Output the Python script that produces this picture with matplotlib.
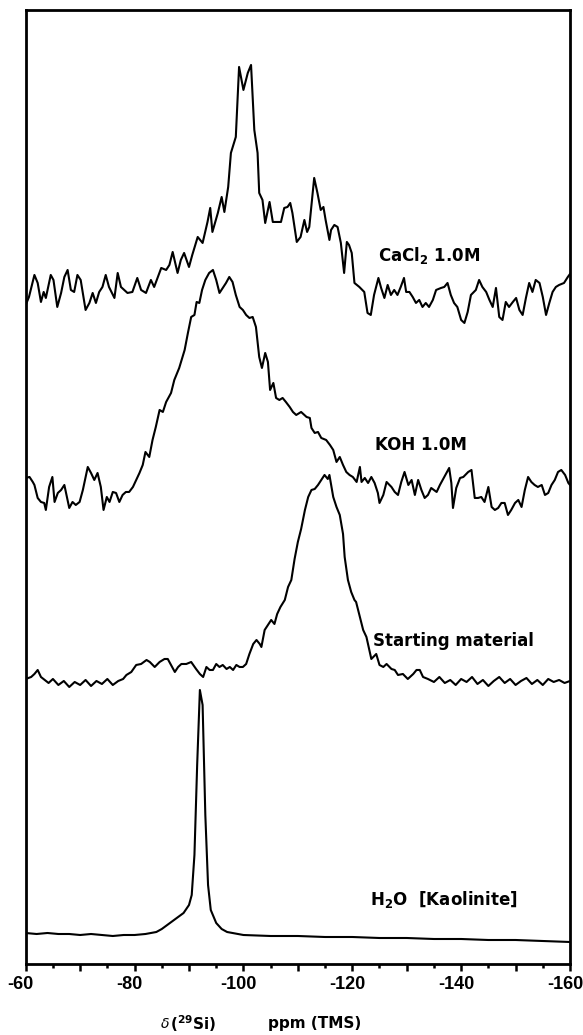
import numpy as np
import matplotlib.pyplot as plt
import matplotlib.transforms as mtransforms
from matplotlib.ticker import MultipleLocator, FuncFormatter

plt.rcParams['font.family'] = ['DejaVu Sans']
plt.rcParams['axes.unicode_minus'] = False
plt.rcParams['mathtext.fontset'] = 'custom'
plt.rcParams['mathtext.rm'] = 'DejaVu Sans:bold'

# 29Si MAS NMR spectra, chemical shift (ppm) and intensity (arbitrary units)
cacl2_ppm = [-60.0, -60.6, -61.6, -62.2, -62.8, -63.3, -63.7, -64.6, -65.1, -65.8,
             -66.5, -67.1, -67.7, -68.3, -68.9, -69.5, -70.1, -71.0, -71.7, -72.3,
             -72.9, -73.5, -74.1, -74.7, -75.3, -76.3, -76.9, -77.5, -78.1, -78.7,
             -79.6, -80.5, -81.2, -82.1, -83.0, -83.6, -84.9, -85.8, -86.4, -87.0,
             -87.9, -88.5, -89.1, -90.0, -90.6, -91.6, -92.5, -93.4, -93.9, -94.3,
             -95.3, -96.0, -96.5, -97.2, -97.7, -98.6, -99.2, -100.0, -100.8, -101.4,
             -102.0, -102.6, -102.9, -103.5, -104.0, -104.8, -105.4, -106.9, -107.5,
             -108.1, -108.6, -109.0, -109.8, -110.5, -111.2, -111.7, -112.1, -113.0, -113.6,
             -114.2, -114.7, -115.1, -115.8, -116.1, -116.7, -117.3, -117.9, -118.5, -119.0,
             -119.4, -119.9, -120.4, -121.3, -122.2, -122.8, -123.4, -124.0, -124.8, -125.3,
             -125.9, -126.5, -127.1, -127.7, -128.3, -128.9, -129.5, -129.9, -130.5, -131.1,
             -131.7, -132.3, -132.9, -133.5, -134.1, -134.8, -135.4, -136.3, -136.9, -137.5,
             -138.1, -138.7, -139.3, -140.0, -140.6, -141.2, -141.8, -142.7, -143.3, -143.9,
             -144.6, -145.2, -145.8, -146.4, -147.0, -147.6, -148.2, -148.8, -149.5, -150.1,
             -150.7, -151.3, -151.9, -152.5, -153.1, -153.7, -154.4, -155.0, -155.6, -156.2,
             -156.8, -157.4, -158.0, -158.9, -159.6, -160.0]
cacl2_int = [-15, -7, 15, 7, -12, -2, -8, 15, 10, -17,
             -3, 13, 20, 0, -2, 15, 10, -20, -13, -3,
             -13, -2, 3, 15, 3, -8, 17, 3, 0, -3,
             -2, 12, 0, -3, 10, 3, 22, 20, 25, 38,
             17, 30, 37, 23, 35, 53, 47, 68, 82, 58,
             77, 93, 78, 103, 137, 153, 223, 200, 217, 225,
             160, 137, 97, 90, 67, 88, 68, 68, 82,
             83, 87, 77, 48, 53, 70, 58, 63, 112, 97,
             80, 83, 70, 50, 60, 65, 63, 47, 17, 48,
             45, 37, 7, 3, -2, -23, -25, -5, 12, 2,
             -8, 5, -5, 0, -5, 3, 12, -2, -2, -7,
             -13, -10, -17, -13, -17, -10, 0, 2, 3, 7,
             -5, -13, -17, -30, -33, -22, -5, 0, 10, 3,
             -2, -10, -17, 2, -27, -30, -12, -17, -12, -8,
             -20, -25, -8, 7, -2, 10, 7, -7, -25, -13,
             -2, 3, 5, 7, 13, 16]

koh_ppm = [-60.0, -60.7, -61.3, -61.6, -62.2, -62.8, -63.4, -63.7, -64.3, -64.9,
           -65.3, -65.9, -66.5, -67.1, -68.0, -68.6, -69.2, -69.9, -70.5, -71.4,
           -72.0, -72.6, -73.2, -73.8, -74.3, -74.9, -75.4, -76.0, -76.6, -77.2,
           -77.8, -78.4, -79.0, -79.7, -80.3, -80.9, -81.5, -82.0, -82.7, -83.3,
           -83.9, -84.6, -85.2, -85.8, -86.7, -87.3, -88.2, -89.2, -89.8, -90.4,
           -91.0, -91.4, -91.9, -92.4, -93.0, -93.7, -94.4, -95.0, -95.6, -96.2,
           -96.8, -97.4, -98.0, -98.6, -99.3, -99.9, -100.5, -101.1, -101.7, -102.3,
           -102.9, -103.4, -104.0, -104.5, -104.9, -105.5, -106.0, -106.6, -107.2, -107.8,
           -108.5, -109.1, -109.7, -110.6, -111.6, -112.2, -112.5, -113.1, -113.7, -114.3,
           -115.2, -115.9, -116.5, -117.1, -117.7, -118.3, -118.9, -119.5, -120.1, -120.8,
           -121.4, -121.7, -122.3, -122.9, -123.5, -124.1, -124.7, -125.0, -125.7, -126.3,
           -127.2, -127.8, -128.4, -129.0, -129.6, -130.3, -130.9, -131.5, -132.1, -132.7,
           -133.3, -133.9, -134.5, -135.5, -136.1, -136.8, -137.8, -138.2, -138.5, -139.1,
           -139.8, -140.4, -141.3, -141.9, -142.5, -143.1, -143.7, -144.3, -145.0, -145.6,
           -146.2, -146.8, -147.4, -148.0, -148.6, -149.2, -149.9, -150.5, -151.1, -151.7,
           -152.3, -152.9, -153.5, -154.1, -154.8, -155.4, -156.0, -156.6, -157.2, -157.8,
           -158.4, -159.1, -159.7, -160.0]
koh_int = [22, 23, 18, 15, 2, -2, -3, -10, 13, 23,
           -2, 7, 10, 15, -8, -2, -5, -2, 10, 33,
           27, 20, 27, 13, -10, 3, -2, 8, 7, -2,
           5, 8, 8, 13, 20, 27, 35, 48, 43, 60,
           73, 90, 88, 98, 107, 120, 132, 150, 167, 183,
           185, 198, 197, 210, 220, 227, 230, 220, 207, 212,
           217, 223, 218, 205, 193, 190, 185, 182, 183, 173,
           143, 132, 147, 138, 110, 117, 102, 100, 102, 98,
           93, 88, 85, 88, 83, 82, 72, 67, 68, 62,
           60, 55, 50, 38, 43, 35, 28, 25, 23, 18,
           33, 18, 22, 17, 23, 17, 7, -3, 5, 18,
           13, 8, 5, 18, 28, 15, 20, 5, 20, 10,
           2, 5, 12, 8, 15, 22, 32, 17, -8, 12,
           22, 23, 28, 30, 2, 2, 3, -2, 13, -7,
           -10, -8, -3, -3, -15, -10, -3, 0, -7, 10,
           23, 18, 15, 13, 15, 5, 7, 15, 20, 28,
           30, 25, 17, 15]

start_ppm = [-60.0, -61.0, -61.6, -62.2, -62.8, -63.5, -64.2, -65.0, -66.0, -67.0,
             -68.0, -69.0, -70.0, -71.0, -72.0, -73.0, -74.0, -75.0, -76.0, -77.0,
             -77.9, -78.5, -79.4, -80.3, -81.2, -82.2, -82.8, -83.7, -84.6, -85.5,
             -86.1, -86.7, -87.4, -88.0, -88.6, -89.5, -90.4, -91.3, -92.0, -92.6,
             -93.2, -93.8, -94.4, -95.0, -95.6, -96.2, -96.9, -97.5, -98.1, -98.7,
             -99.3, -99.9, -100.5, -101.1, -101.8, -102.4, -103.0, -103.3, -103.9, -104.5,
             -105.1, -105.7, -106.2, -106.8, -107.6, -108.2, -108.8, -109.4, -110.0, -110.6,
             -111.3, -111.9, -112.5, -113.1, -113.7, -114.3, -114.9, -115.5, -115.8, -116.5,
             -117.1, -117.7, -118.3, -118.6, -119.2, -119.8, -120.4, -120.7, -121.4, -122.0,
             -122.6, -123.2, -123.5, -124.4, -125.0, -125.7, -126.3, -127.2, -127.8, -128.4,
             -129.3, -130.2, -131.2, -131.8, -132.4, -133.0, -133.9, -135.0, -136.0, -137.0,
             -138.0, -139.0, -140.0, -141.0, -142.0, -143.0, -144.0, -145.0, -146.0, -147.0,
             -148.0, -149.0, -150.0, -151.0, -152.0, -153.0, -154.0, -155.0, -156.0, -157.0,
             -158.0, -159.0, -160.0]
start_int = [-2, 0, 3, 7, 0, -3, -6, -2, -8, -4,
             -10, -5, -8, -3, -9, -4, -7, -2, -8, -4,
             -2, 2, 5, 12, 13, 17, 15, 10, 15, 18,
             18, 12, 5, 10, 13, 13, 15, 8, 3, 0,
             10, 7, 7, 13, 10, 12, 8, 10, 7, 12,
             10, 10, 13, 23, 33, 37, 33, 30, 47, 52,
             57, 53, 63, 70, 77, 90, 97, 118, 135, 148,
             167, 180, 187, 188, 192, 197, 202, 198, 202, 180,
             170, 162, 143, 120, 97, 85, 77, 75, 60, 47,
             40, 25, 18, 23, 12, 10, 13, 8, 7, 2,
             3, -2, 3, 7, 7, 0, -2, -5, 0, -6,
             -3, -8, -2, -5, 0, -7, -3, -9, -4, 0,
             -6, -2, -8, -4, -1, -7, -3, -8, -2, -5,
             -3, -6, -4]

h2o_ppm = [-60, -62, -64, -66, -68, -70, -72, -74, -76, -78,
           -80, -82, -84, -85, -86, -87, -88, -89, -90, -90.5,
           -91, -91.5, -92, -92.5, -93, -93.5, -94, -95, -96, -97,
           -98, -100, -105, -110, -115, -120, -125, -130, -135, -140,
           -145, -150, -155, -160]
h2o_int = [2, 1, 2, 1, 1, 0, 1, 0, -1, 0,
           0, 1, 3, 6, 10, 14, 18, 22, 30, 40,
           80, 170, 245, 230, 120, 50, 25, 12, 6, 3,
           2, 0, -1, -1, -2, -2, -3, -3, -4, -4,
           -5, -5, -6, -7]

fig = plt.figure(figsize=(5.83, 10.35), dpi=100)
ax = fig.add_axes([0.0441, 0.0686, 0.9336, 0.9213])

# baselines of the stacked traces
offsets = [674, 464, 287, 29]
traces = [(cacl2_ppm, cacl2_int), (koh_ppm, koh_int),
          (start_ppm, start_int), (h2o_ppm, h2o_int)]
for (ppm, inten), off in zip(traces, offsets):
    ax.plot(ppm, np.array(inten) + off, color='black', lw=1.5,
            solid_joinstyle='round')

lab = dict(fontsize=12, fontweight='bold', color='black', va='center')
ax.text(-124.7, 708, r'CaCl$_2$ 1.0M', **lab)
ax.text(-124.2, 519, 'KOH 1.0M', **lab)
ax.text(-123.8, 323, 'Starting material', **lab)
ax.text(-123.3, 64, r'H$_2$O  [Kaolinite]', **lab)

ax.set_xlim(-60, -160)
ax.set_ylim(0, 953.5)
ax.set_yticks([])
ax.xaxis.set_major_locator(MultipleLocator(10))
ax.xaxis.set_minor_locator(MultipleLocator(5))
ax.xaxis.set_major_formatter(FuncFormatter(
    lambda v, p: '%d' % v if int(round(v)) % 20 == 0 else ''))
ax.tick_params(axis='x', which='major', direction='out', length=5, width=1.8,
               pad=4)
ax.tick_params(axis='x', which='minor', direction='out', length=3, width=1.8)
shift = mtransforms.ScaledTranslation(-0.05, 0, fig.dpi_scale_trans)
for lbl in ax.get_xticklabels():
    lbl.set_fontfamily('Liberation Sans')
    lbl.set_fontweight('bold')
    lbl.set_fontsize(13)
    lbl.set_transform(lbl.get_transform() + shift)
for sp in ax.spines.values():
    sp.set_linewidth(2)

fig.text(0.275, 0.011, r'$\delta$', fontsize=10, ha='left', va='center',
         family='DejaVu Serif', style='italic')
fig.text(0.291, 0.011, r'($^{29}$Si)', fontsize=11, fontweight='bold',
         ha='left', va='center')
fig.text(0.46, 0.011, 'ppm (TMS)', fontsize=11, fontweight='bold',
         ha='left', va='center')

fig.savefig('out.png', dpi=100)
